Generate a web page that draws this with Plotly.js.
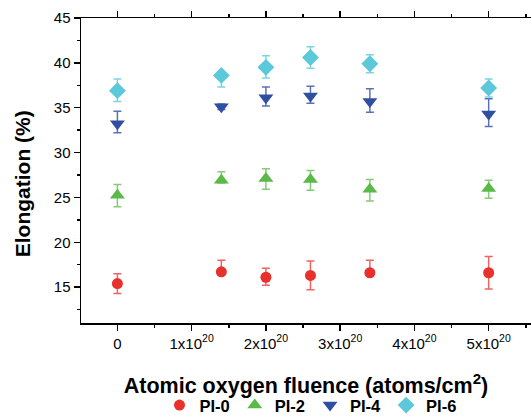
<!DOCTYPE html>
<html>
<head>
<meta charset="utf-8">
<script src="https://cdn.plot.ly/plotly-3.0.1.min.js"></script>
<style>html,body{margin:0;padding:0;background:#fff;overflow:hidden;}#chart{width:531px;height:416px;}</style>
</head>
<body>
<div id="chart"></div>
<script>
// Atomic oxygen fluence (atoms/cm^2)
const fluence = [0, 1.4e20, 2.0e20, 2.6e20, 3.4e20, 5.0e20];
const seriesNames = ['PI-0', 'PI-2', 'PI-4', 'PI-6'];

// Elongation (%) values
const pi0 = [15.4, 16.7, 16.1, 16.3, 16.6, 16.6];
const pi2 = [25.25, 26.9, 27.1, 27.0, 25.9, 26.0];
const pi4 = [33.2, 35.1, 36.1, 36.3, 35.7, 34.3];
const pi6 = [36.9, 38.6, 39.5, 40.6, 39.9, 37.2];

// Error bars (upper / lower)
const pi0ErrUp = [1.1, 1.3, 1.0, 1.6, 1.4, 1.8];
const pi0ErrDn = [1.1, 0.3, 0.9, 1.6, 0.3, 1.8];
const pi2ErrUp = [1.2, 0.95, 1.1, 1.0, 1.1, 0.9];
const pi2ErrDn = [1.3, 0.3, 1.2, 1.2, 1.3, 1.1];
const pi4ErrUp = [1.4, 0.3, 1.2, 1.1, 1.4, 1.7];
const pi4ErrDn = [1.0, 0.3, 0.9, 0.8, 1.2, 1.4];
const pi6ErrUp = [1.3, 0.3, 1.3, 1.2, 1.0, 1.0];
const pi6ErrDn = [1.2, 1.3, 1.2, 1.2, 1.0, 1.0];

// Axis ticks
const xTickVals = [0, 1e20, 2e20, 3e20, 4e20, 5e20];
const xTickText = ['0', '1x10<sup>20</sup>', '2x10<sup>20</sup>', '3x10<sup>20</sup>', '4x10<sup>20</sup>', '5x10<sup>20</sup>'];
const xMinorVals = [0.5e20, 1.5e20, 2.5e20, 3.5e20, 4.5e20, 5.5e20];

const colors = ['#e8302c', '#5bb947', '#2f4fa2', '#5bc9d9'];
const errColors = ['rgba(232,48,44,0.75)', 'rgba(91,185,71,0.75)', 'rgba(47,79,162,0.8)', 'rgba(91,201,217,0.8)'];
const symbols = ['circle', 'triangle-up', 'triangle-down', 'diamond'];
const sizes = [11, 13, 13, 13];

const ys = [pi0, pi2, pi4, pi6];
const ups = [pi0ErrUp, pi2ErrUp, pi4ErrUp, pi6ErrUp];
const dns = [pi0ErrDn, pi2ErrDn, pi4ErrDn, pi6ErrDn];

const traces = seriesNames.map((name, i) => ({
  type: 'scatter',
  mode: 'markers',
  name: name,
  x: fluence,
  y: ys[i],
  marker: {symbol: symbols[i], size: sizes[i], color: colors[i], line: {width: 0}},
  error_y: {type: 'data', symmetric: false, array: ups[i], arrayminus: dns[i],
            color: errColors[i], thickness: 1.5, width: 4}
}));

const font = {family: 'Liberation Sans, Arial, sans-serif', color: '#000'};

const layout = {
  width: 531, height: 416,
  margin: {l: 81, r: 0, t: 18, b: 93, autoexpand: false},
  paper_bgcolor: '#fff', plot_bgcolor: '#fff',
  showlegend: true,
  font: Object.assign({size: 15}, font),
  xaxis: {
    range: [-0.49e20, 5.57e20],
    tickmode: 'array', tickvals: xTickVals, ticktext: xTickText,
    ticks: 'outside', ticklen: 6, tickwidth: 1.5, tickcolor: '#000',
    minor: {tickmode: 'array', tickvals: xMinorVals, ticks: 'outside', ticklen: 3, tickwidth: 1.5, tickcolor: '#000'},
    showline: true, linecolor: '#000', linewidth: 1.5, mirror: 'ticks',
    showgrid: false, zeroline: false,
    tickfont: Object.assign({size: 15}, font),
    title: {text: 'Atomic oxygen fluence (atoms/cm<sup>2</sup>)', font: Object.assign({size: 21.5, weight: 'bold'}, font), standoff: 27},
    automargin: false
  },
  yaxis: {
    range: [11, 45],
    tickmode: 'linear', tick0: 15, dtick: 5,
    ticks: 'outside', ticklen: 6, tickwidth: 1.5, tickcolor: '#000',
    minor: {tickmode: 'linear', tick0: 12.5, dtick: 5, ticks: 'outside', ticklen: 3, tickwidth: 1.5, tickcolor: '#000'},
    showline: true, linecolor: '#000', linewidth: 1.5, mirror: false,
    showgrid: false, zeroline: false,
    tickfont: Object.assign({size: 15}, font),
    automargin: false
  },
  annotations: [{
    text: 'Elongation (%)', textangle: -90, showarrow: false,
    xref: 'paper', yref: 'paper', x: -0.131, y: 0.455, xanchor: 'center', yanchor: 'middle',
    font: Object.assign({size: 21, weight: 'bold'}, font)
  }],
  legend: {
    orientation: 'h', x: 0.51, xanchor: 'center', y: -0.27, yanchor: 'middle',
    font: Object.assign({size: 16.5, weight: 'bold'}, font),
    bgcolor: 'rgba(0,0,0,0)', itemwidth: 30
  }
};

Plotly.newPlot('chart', traces, layout, {displayModeBar: false, staticPlot: true});
</script>
</body>
</html>
